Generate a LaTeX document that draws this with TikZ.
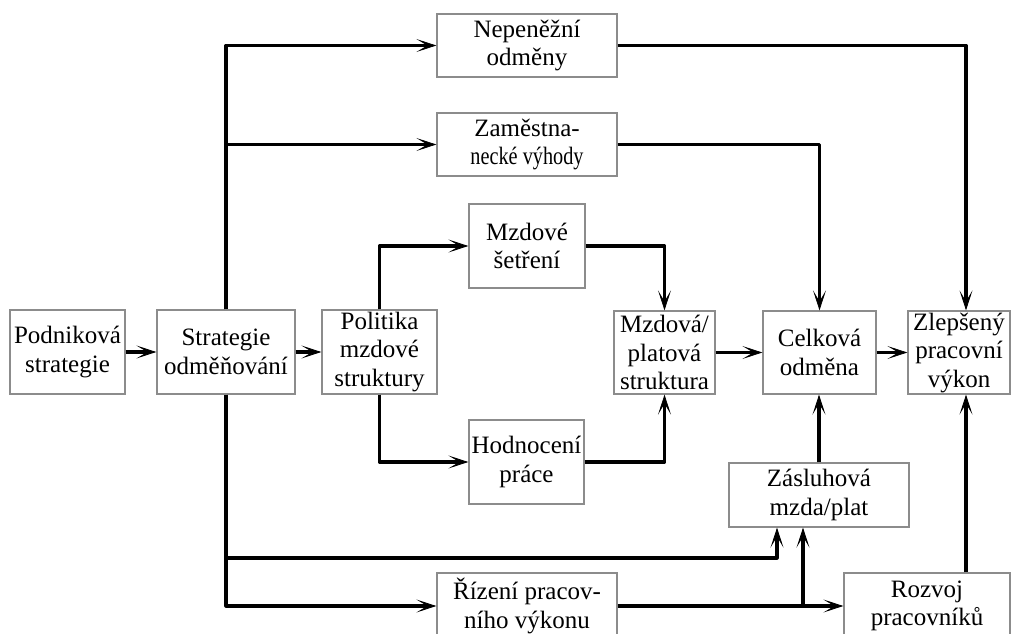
\documentclass[tikz,border=0pt]{standalone}
\usepackage{fontspec}
\setmainfont{Liberation Serif}
\usepackage{graphicx}
\usetikzlibrary{arrows.meta}
\begin{document}
\begin{tikzpicture}[x=1pt,y=-1pt,
  box/.style={draw=black!45, line width=1.3pt, inner sep=0pt, align=center,
    font=\fontsize{25}{28.5}\selectfont},
  conn/.style={line width=3.2pt, line join=round,
    -{Stealth[length=20pt,width=13pt,inset=11pt,line width=0.8pt]}}
]
\useasboundingbox (0,0) rectangle (1012,634);
\fill[white] (0,0) rectangle (1012,634);

\node[box, minimum width=115pt, minimum height=84pt] (pod) at (67.5,352) {Podniková\\strategie};
\node[box, minimum width=138pt, minimum height=84pt] (str) at (226,352) {Strategie\\odměňování};
\node[box, minimum width=115pt, minimum height=84pt] (pol) at (379.5,352) {Politika\\mzdové\\struktury};
\node[box, minimum width=116pt, minimum height=84pt] (mzs) at (527,246) {Mzdové\\šetření};
\node[box, minimum width=115pt, minimum height=84pt] (hod) at (526.5,462) {Hodnocení\\práce};
\node[box, minimum width=101pt, minimum height=83pt] (mzp) at (664.5,352.5) {Mzdová/\\platová\\struktura};
\node[box, minimum width=180pt, minimum height=63pt] (nep) at (527,45.5) {Nepeněžní\\odměny};
\node[box, minimum width=180pt, minimum height=63pt] (zam) at (527,144.5) {Zaměstna-\\\scalebox{0.81}[1]{necké výhody}};
\node[box, minimum width=113pt, minimum height=83pt] (cel) at (819.5,352.5) {Celková\\odměna};
\node[box, minimum width=102pt, minimum height=83pt] (zle) at (959,352.5) {Zlepšený\\pracovní\\výkon};
\node[box, minimum width=180pt, minimum height=64pt] (zas) at (819,495) {Zásluhová\\mzda/plat};
\node[box, minimum width=166pt, minimum height=66pt] (roz) at (927,606) {Rozvoj\\pracovníků};
\node[box, minimum width=180pt, minimum height=66pt] (riz) at (527,606) {Řízení pracov-\\ního výkonu};

\coordinate (j1) at (777,558);
\coordinate (j2) at (803,0);
\coordinate (cx) at (966,0);

\draw[conn] (pod.east) -- (pod.east -| str.west);
\draw[conn] (str.east) -- (str.east -| pol.west);
\draw[conn] (str.north) |- (nep.west);
\draw[conn] (str.north) |- (zam.west);
\draw[conn] (str.south) |- (j1) -- (j1 |- zas.south);
\draw[conn] (str.south) |- (riz.west);
\draw[conn] (riz.east) -- (roz.west);
\draw[conn] (riz.east -| j2) -- (zas.south -| j2);
\draw[conn] (roz.north -| cx) -- (zle.south -| cx);
\draw[conn] (zas.north) -- (zas.north |- cel.south);
\draw[conn] (pol.north) |- (mzs.west);
\draw[conn] (mzs.east) -| (mzp.north);
\draw[conn] (pol.south) |- (hod.west);
\draw[conn] (hod.east) -| (mzp.south);
\draw[conn] (mzp.east) -- (mzp.east -| cel.west);
\draw[conn] (cel.east) -- (cel.east -| zle.west);
\draw[conn] (nep.east) -| (zle.north -| cx);
\draw[conn] (zam.east) -| (cel.north);
\end{tikzpicture}
\end{document}
